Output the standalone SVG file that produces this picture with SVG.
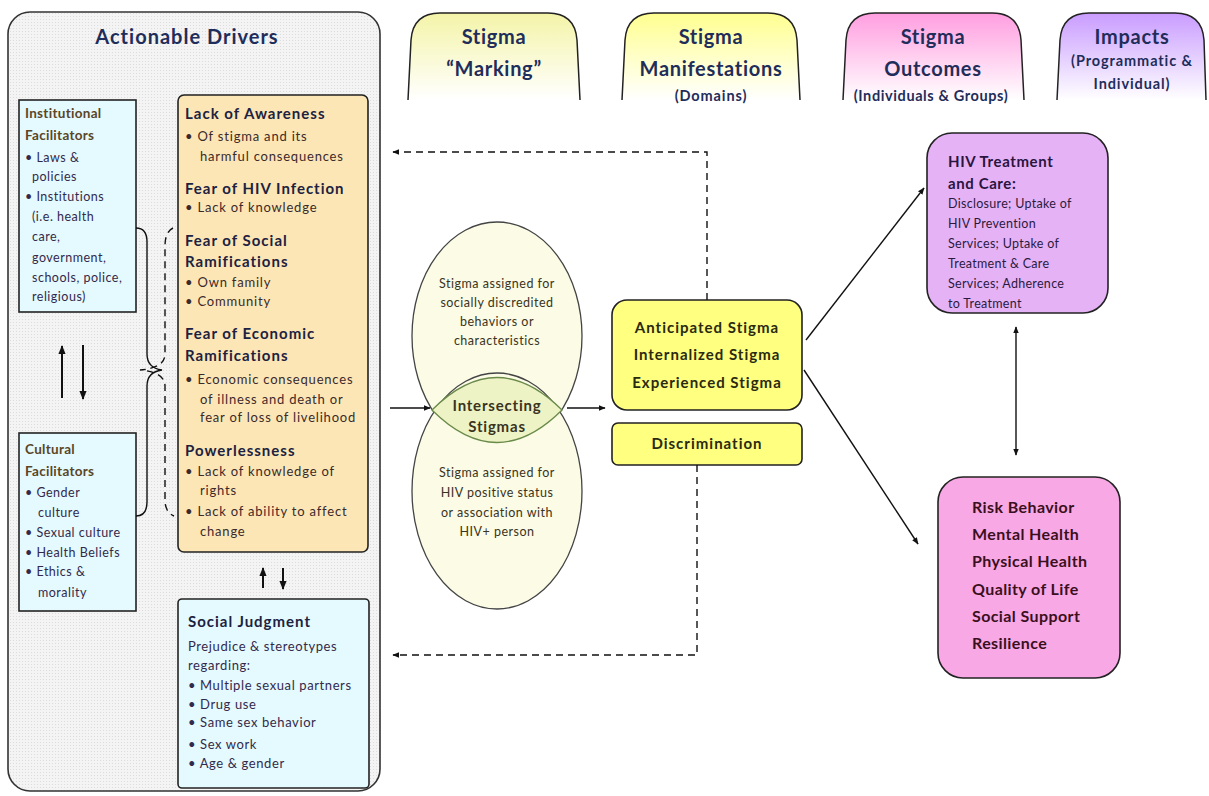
<svg xmlns="http://www.w3.org/2000/svg" width="1209" height="796" viewBox="0 0 1209 796">
<style>
text{font-family:Lato,"Liberation Sans",sans-serif;}
.hdr{font-size:20px;font-weight:bold;fill:#1f2d5a;text-anchor:middle;letter-spacing:0.7px;}
.hsm{font-size:14.5px;font-weight:bold;fill:#1f2d5a;text-anchor:middle;letter-spacing:0.9px;}
.h{font-size:15px;font-weight:bold;fill:#1c2240;letter-spacing:1px;}
.b{font-size:13px;fill:#3a2a2a;letter-spacing:0.8px;}
.bh{font-size:13.5px;font-weight:bold;fill:#5a4526;letter-spacing:0.3px;}
.bb{font-size:12.5px;fill:#33294a;letter-spacing:0.5px;}
.sj{font-size:13px;fill:#33294a;letter-spacing:0.6px;}
.el{font-size:12.5px;fill:#3a3320;text-anchor:middle;letter-spacing:0.5px;}
.ys{font-size:15px;font-weight:bold;fill:#2a2a10;text-anchor:middle;letter-spacing:1px;}
.pk{font-size:16px;font-weight:bold;fill:#3a1020;letter-spacing:0.4px;}
.pu{font-size:12.5px;fill:#2a1a40;letter-spacing:0.3px;}
.tab{stroke:#222;stroke-width:1.5;}
.box{stroke:#222;stroke-width:1.6;}
.ln{fill:none;stroke:#111;stroke-width:1.4;}
.ln2{fill:none;stroke:#111;stroke-width:2;}
.dash{fill:none;stroke:#111;stroke-width:1.4;stroke-dasharray:7,5;}
</style>
<defs>
<pattern id="dots" width="3" height="3" patternUnits="userSpaceOnUse">
<rect width="3" height="3" fill="#f4f4f4"/>
<circle cx="1.5" cy="1.5" r="0.6" fill="#dadada"/>
</pattern>
<linearGradient id="g1" x1="0" y1="0" x2="0" y2="1"><stop offset="0" stop-color="#f4f4a8"/><stop offset="1" stop-color="#ffffff"/></linearGradient>
<linearGradient id="g2" x1="0" y1="0" x2="0" y2="1"><stop offset="0" stop-color="#ffff90"/><stop offset="1" stop-color="#ffffff"/></linearGradient>
<linearGradient id="g3" x1="0" y1="0" x2="0" y2="1"><stop offset="0" stop-color="#ff9ee0"/><stop offset="1" stop-color="#ffffff"/></linearGradient>
<linearGradient id="g4" x1="0" y1="0" x2="0" y2="1"><stop offset="0" stop-color="#c99cff"/><stop offset="1" stop-color="#ffffff"/></linearGradient>
<marker id="ar" viewBox="0 0 10 10" refX="9" refY="5" markerWidth="7" markerHeight="7" orient="auto-start-reverse" markerUnits="userSpaceOnUse">
<path d="M0,1 L10,5 L0,9 Z" fill="#111"/>
</marker>
<marker id="ar2" viewBox="0 0 10 10" refX="9" refY="5" markerWidth="9" markerHeight="9" orient="auto-start-reverse" markerUnits="userSpaceOnUse">
<path d="M0,1 L10,5 L0,9 Z" fill="#111"/>
</marker>
</defs>
<rect width="1209" height="796" fill="#ffffff"/>

<g id="headers">
<path class="tab" fill="url(#g1)" d="M408,100 L411,40 Q413,13 440,13 L548,13 Q575,13 577,40 L580,100"/>
<text class="hdr" x="494" y="44">Stigma</text>
<text class="hdr" x="494" y="76">“Marking”</text>
<path class="tab" fill="url(#g2)" d="M622,100 L625,40 Q627,13 654,13 L768,13 Q795,13 797,40 L800,100"/>
<text class="hdr" x="711" y="44">Stigma</text>
<text class="hdr" x="711" y="76">Manifestations</text>
<text class="hsm" x="711" y="101">(Domains)</text>
<path class="tab" fill="url(#g3)" d="M843,100 L846,40 Q848,13 875,13 L992,13 Q1019,13 1021,40 L1024,100"/>
<text class="hdr" x="933" y="44">Stigma</text>
<text class="hdr" x="933" y="76">Outcomes</text>
<text class="hsm" x="931" y="101" style="letter-spacing:0.6px">(Individuals &amp; Groups)</text>
<path class="tab" fill="url(#g4)" d="M1057,100 L1060,40 Q1062,13 1089,13 L1175,13 Q1202,13 1204,40 L1206,100"/>
<text class="hdr" x="1132" y="44">Impacts</text>
<text class="hsm" x="1132" y="66">(Programmatic &amp;</text>
<text class="hsm" x="1132" y="89">Individual)</text>
</g>

<g id="actionable-drivers">
<rect x="8" y="12" width="372" height="779" rx="22" fill="url(#dots)" stroke="#333" stroke-width="1.6"/>
<text class="hdr" x="187" y="44" style="letter-spacing:1px">Actionable Drivers</text>
</g>

<g id="institutional">
<rect class="box" x="19" y="100" width="117" height="212" fill="#e4faff"/>
<text class="bh" x="25" y="118">Institutional</text>
<text class="bh" x="25" y="140">Facilitators</text>
<text class="bb" x="25" y="162">• Laws &amp;</text>
<text class="bb" x="32" y="181">policies</text>
<text class="bb" x="25" y="201">• Institutions</text>
<text class="bb" x="32" y="221">(i.e. health</text>
<text class="bb" x="32" y="241">care,</text>
<text class="bb" x="32" y="262">government,</text>
<text class="bb" x="32" y="282">schools, police,</text>
<text class="bb" x="32" y="301">religious)</text>
</g>

<g id="cultural">
<rect class="box" x="19" y="433" width="117" height="178" fill="#e4faff"/>
<text class="bh" x="25" y="454">Cultural</text>
<text class="bh" x="25" y="476">Facilitators</text>
<text class="bb" x="25" y="497">• Gender</text>
<text class="bb" x="38" y="517">culture</text>
<text class="bb" x="25" y="537">• Sexual culture</text>
<text class="bb" x="25" y="557">• Health Beliefs</text>
<text class="bb" x="25" y="576">• Ethics &amp;</text>
<text class="bb" x="38" y="597">morality</text>
</g>

<g id="fears">
<rect class="box" x="178" y="95" width="190" height="457" rx="6" fill="#fde6b6"/>
<text class="h" x="185" y="119">Lack of Awareness</text>
<text class="b" x="185" y="141">• Of stigma and its</text>
<text class="b" x="200" y="161">harmful consequences</text>
<text class="h" x="185" y="194">Fear of HIV Infection</text>
<text class="b" x="185" y="212">• Lack of knowledge</text>
<text class="h" x="185" y="246">Fear of Social</text>
<text class="h" x="185" y="267">Ramifications</text>
<text class="b" x="185" y="287">• Own family</text>
<text class="b" x="185" y="306">• Community</text>
<text class="h" x="185" y="339">Fear of Economic</text>
<text class="h" x="185" y="361">Ramifications</text>
<text class="b" x="185" y="384">• Economic consequences</text>
<text class="b" x="200" y="404">of illness  and death or</text>
<text class="b" x="200" y="422">fear of loss of livelihood</text>
<text class="h" x="185" y="456">Powerlessness</text>
<text class="b" x="185" y="476">• Lack of knowledge of</text>
<text class="b" x="200" y="495">rights</text>
<text class="b" x="185" y="516">• Lack of ability to affect</text>
<text class="b" x="200" y="536">change</text>
</g>

<g id="social-judgment">
<rect class="box" x="178" y="599" width="191" height="189" rx="4" fill="#e4faff"/>
<text class="h" x="188" y="627">Social Judgment</text>
<text class="sj" x="188" y="651">Prejudice &amp; stereotypes</text>
<text class="sj" x="188" y="670">regarding:</text>
<text class="sj" x="188" y="690">• Multiple sexual partners</text>
<text class="sj" x="188" y="709">• Drug use</text>
<text class="sj" x="188" y="727">• Same sex behavior</text>
<text class="sj" x="188" y="749">• Sex work</text>
<text class="sj" x="188" y="768">• Age &amp; gender</text>
</g>

<g id="stigma-marking">
<ellipse cx="497" cy="336" rx="85" ry="114" fill="#fbfbe6" stroke="#444" stroke-width="1.3"/>
<ellipse cx="497" cy="491" rx="85" ry="118" fill="#fbfbe6" stroke="#444" stroke-width="1.3"/>
<path d="M432,410 Q497,345 562,410 Q497,475 432,410 Z" fill="#eef3c6" stroke="#6a8a4a" stroke-width="1.3"/>
<text class="el" x="497" y="288">Stigma assigned for</text>
<text class="el" x="497" y="307">socially discredited</text>
<text class="el" x="497" y="326">behaviors or</text>
<text class="el" x="497" y="345">characteristics</text>
<text class="el" x="497" y="411" style="font-size:15px;font-weight:bold;letter-spacing:0.8px">Intersecting</text>
<text class="el" x="497" y="432" style="font-size:15px;font-weight:bold;letter-spacing:0.8px">Stigmas</text>
<text class="el" x="497" y="477">Stigma assigned for</text>
<text class="el" x="497" y="497">HIV positive status</text>
<text class="el" x="497" y="517">or association with</text>
<text class="el" x="497" y="536">HIV+ person</text>
</g>

<g id="manifestations">
<rect class="box" x="612" y="300" width="190" height="110" rx="15" fill="#ffff80"/>
<text class="ys" x="707" y="333">Anticipated Stigma</text>
<text class="ys" x="707" y="360">Internalized Stigma</text>
<text class="ys" x="707" y="388">Experienced Stigma</text>
</g>

<g id="discrimination">
<rect class="box" x="612" y="423" width="190" height="42" rx="6" fill="#ffff80"/>
<text class="ys" x="707" y="449">Discrimination</text>
</g>

<g id="hiv-treatment">
<rect class="box" x="927" y="133" width="181" height="180" rx="25" fill="#e6b2f6"/>
<text class="h" x="948" y="167" style="fill:#2a1440;letter-spacing:0.6px">HIV Treatment</text>
<text class="h" x="948" y="189" style="fill:#2a1440;letter-spacing:0.6px">and Care:</text>
<text class="pu" x="948" y="208">Disclosure; Uptake of</text>
<text class="pu" x="948" y="228">HIV Prevention</text>
<text class="pu" x="948" y="248">Services; Uptake of</text>
<text class="pu" x="948" y="268">Treatment &amp; Care</text>
<text class="pu" x="948" y="288">Services; Adherence</text>
<text class="pu" x="948" y="308">to Treatment</text>
</g>

<g id="outcomes">
<rect class="box" x="938" y="477" width="182" height="201" rx="25" fill="#f9a8e6"/>
<text class="pk" x="972" y="513">Risk Behavior</text>
<text class="pk" x="972" y="540">Mental Health</text>
<text class="pk" x="972" y="567">Physical Health</text>
<text class="pk" x="972" y="595">Quality of Life</text>
<text class="pk" x="972" y="622">Social Support</text>
<text class="pk" x="972" y="649">Resilience</text>
</g>

<g id="connectors">
<line class="ln2" x1="62" y1="398" x2="62" y2="346" marker-end="url(#ar2)"/>
<line class="ln2" x1="83" y1="345" x2="83" y2="399" marker-end="url(#ar2)"/>
<line class="ln2" x1="263" y1="588" x2="263" y2="568" marker-end="url(#ar2)"/>
<line class="ln2" x1="283" y1="568" x2="283" y2="589" marker-end="url(#ar2)"/>
<path class="ln" d="M136,228 Q147,228 147,242 L147,354 Q147,368 162,370 Q147,372 147,386 L147,502 Q147,516 136,516"/>
<path class="dash" d="M173,228 Q165,232 165,246 L165,354 Q165,368 140,370 Q165,372 165,386 L165,500 Q165,512 174,516"/>
<line class="ln" x1="390" y1="408" x2="430" y2="408" marker-end="url(#ar)"/>
<line class="ln" x1="567" y1="408" x2="605" y2="408" marker-end="url(#ar)"/>
<path class="dash" d="M707,300 L707,152 L393,152" marker-end="url(#ar)"/>
<path class="dash" d="M697,465 L697,655 L393,655" marker-end="url(#ar)"/>
<line class="ln" x1="806" y1="340" x2="924" y2="188" marker-end="url(#ar)"/>
<line class="ln" x1="804" y1="370" x2="918" y2="544" marker-end="url(#ar)"/>
<line class="ln" x1="1016" y1="327" x2="1016" y2="455" marker-start="url(#ar)" marker-end="url(#ar)"/>
</g>
</svg>
